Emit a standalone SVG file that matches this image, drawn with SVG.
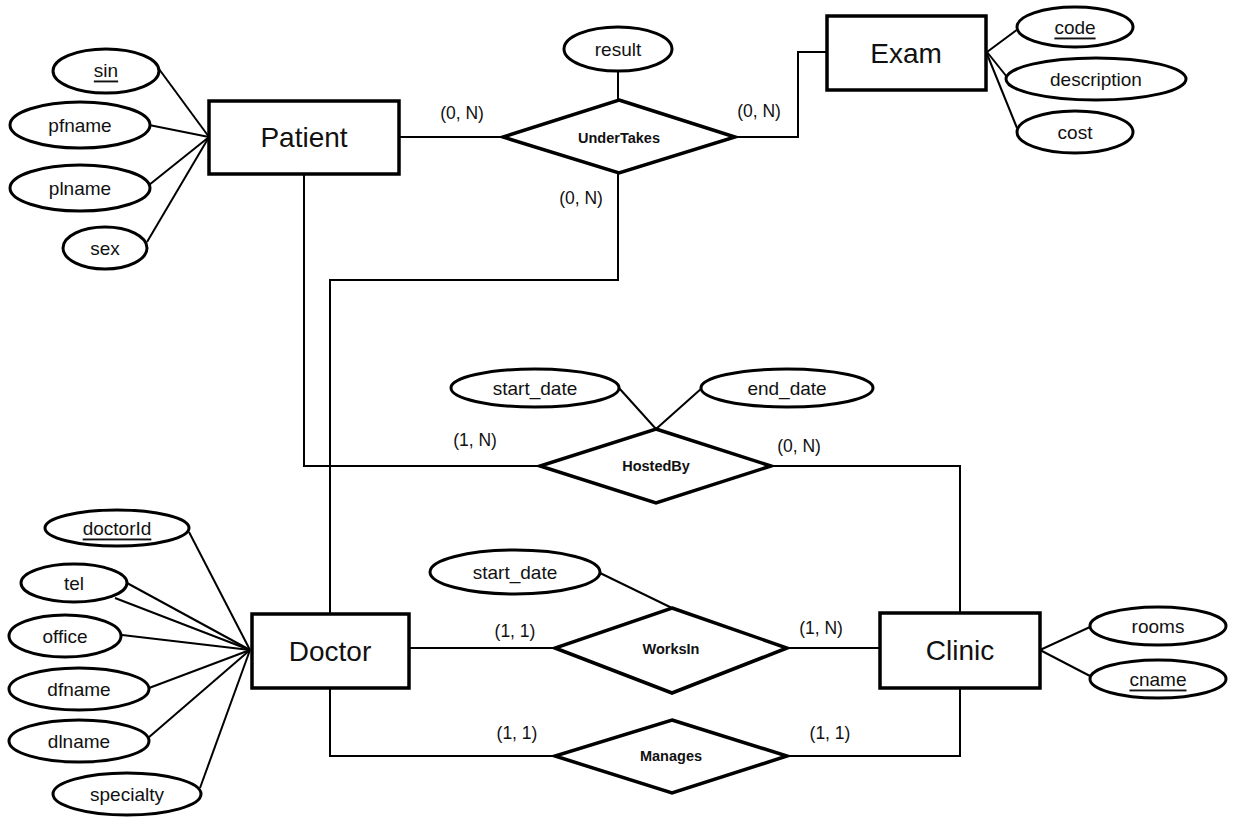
<svg xmlns="http://www.w3.org/2000/svg" width="1233" height="818" viewBox="0 0 1233 818">
<style>
.ent{fill:#fff;stroke:#000;stroke-width:3.5}
.att{fill:#fff;stroke:#000;stroke-width:3}
.rel{fill:#fff;stroke:#000;stroke-width:3.5;stroke-linejoin:miter}
.con{fill:none;stroke:#000;stroke-width:2}
text{font-family:"Liberation Sans",Arial,sans-serif;fill:#111;text-anchor:middle;dominant-baseline:central}
.et{font-size:28px}
.at{font-size:19px}
.rt{font-size:14.5px;font-weight:bold}
.ct{font-size:17.5px}
.key{text-decoration:underline}
</style>
<rect width="1233" height="818" fill="#fff"/>
<g id="connectors">
<line class="con" x1="159" y1="69" x2="209" y2="137"/>
<line class="con" x1="149" y1="125" x2="209" y2="137"/>
<line class="con" x1="149" y1="185" x2="209" y2="137"/>
<line class="con" x1="147" y1="242" x2="209" y2="137"/>
<line class="con" x1="987" y1="52" x2="1018" y2="29"/>
<line class="con" x1="987" y1="52" x2="1007" y2="77"/>
<line class="con" x1="987" y1="54" x2="1017" y2="128"/>
<line class="con" x1="618" y1="71" x2="618" y2="100"/>
<polyline class="con" points="399,137 503,137"/>
<polyline class="con" points="735,137 798,137 798,52 827,52"/>
<polyline class="con" points="618,173 618,280 330,280 330,614"/>
<polyline class="con" points="304,174 304,466 540,466"/>
<polyline class="con" points="771,466 960,466 960,613"/>
<line class="con" x1="619" y1="388" x2="656" y2="429"/>
<line class="con" x1="702" y1="388" x2="656" y2="429"/>
<line class="con" x1="189" y1="532" x2="250" y2="650"/>
<line class="con" x1="127" y1="583" x2="250" y2="650"/>
<line class="con" x1="115" y1="598" x2="250" y2="650"/>
<line class="con" x1="122" y1="635" x2="250" y2="650"/>
<line class="con" x1="149" y1="688" x2="250" y2="650"/>
<line class="con" x1="148" y1="738" x2="250" y2="650"/>
<line class="con" x1="200" y1="788" x2="250" y2="650"/>
<polyline class="con" points="409,648 555,648"/>
<polyline class="con" points="787,648 880,648"/>
<line class="con" x1="600" y1="573" x2="672" y2="608"/>
<polyline class="con" points="330,688 330,756 555,756"/>
<polyline class="con" points="787,756 960,756 960,688"/>
<line class="con" x1="1040" y1="650" x2="1090" y2="627"/>
<line class="con" x1="1040" y1="650" x2="1090" y2="676"/>
</g>
<g id="patient"><rect class="ent" x="209" y="101" width="190" height="73"/><text class="et" x="304" y="137">Patient</text></g>
<g id="attr-sin"><ellipse class="att" cx="106" cy="71" rx="53" ry="22"/><text class="at key" x="106" y="70">sin</text></g>
<g id="attr-pfname"><ellipse class="att" cx="80" cy="125" rx="70" ry="23"/><text class="at" x="80" y="125">pfname</text></g>
<g id="attr-plname"><ellipse class="att" cx="80" cy="188" rx="70" ry="23"/><text class="at" x="80" y="188">plname</text></g>
<g id="attr-sex"><ellipse class="att" cx="105" cy="248" rx="42" ry="21"/><text class="at" x="105" y="248">sex</text></g>
<g id="exam"><rect class="ent" x="827" y="16" width="159" height="74"/><text class="et" x="906" y="53">Exam</text></g>
<g id="attr-code"><ellipse class="att" cx="1075" cy="27" rx="58" ry="20"/><text class="at key" x="1075" y="27">code</text></g>
<g id="attr-description"><ellipse class="att" cx="1096" cy="79" rx="90" ry="21"/><text class="at" x="1096" y="79">description</text></g>
<g id="attr-cost"><ellipse class="att" cx="1075" cy="132" rx="58" ry="21"/><text class="at" x="1075" y="132">cost</text></g>
<g id="undertakes"><polygon class="rel" points="619,100 735,137 619,173 503,137"/><text class="rt" x="619" y="138">UnderTakes</text></g>
<g id="attr-result"><ellipse class="att" cx="618" cy="49" rx="54" ry="22"/><text class="at" x="618" y="49">result</text></g>
<g id="hostedby"><polygon class="rel" points="656,429 771,466 656,503 540,466"/><text class="rt" x="656" y="466">HostedBy</text></g>
<g id="attr-hb-start"><ellipse class="att" cx="535" cy="388" rx="84" ry="19"/><text class="at" x="535" y="388">start_date</text></g>
<g id="attr-hb-end"><ellipse class="att" cx="787" cy="388" rx="86" ry="19"/><text class="at" x="787" y="388">end_date</text></g>
<g id="doctor"><rect class="ent" x="252" y="614" width="157" height="74"/><text class="et" x="330" y="651">Doctor</text></g>
<g id="attr-doctorId"><ellipse class="att" cx="117" cy="528" rx="72" ry="18"/><text class="at key" x="117" y="528">doctorId</text></g>
<g id="attr-tel"><ellipse class="att" cx="74" cy="583" rx="53" ry="19"/><text class="at" x="74" y="583">tel</text></g>
<g id="attr-office"><ellipse class="att" cx="65" cy="636" rx="56" ry="21"/><text class="at" x="65" y="636">office</text></g>
<g id="attr-dfname"><ellipse class="att" cx="79" cy="689" rx="70" ry="21"/><text class="at" x="79" y="689">dfname</text></g>
<g id="attr-dlname"><ellipse class="att" cx="79" cy="741" rx="70" ry="21"/><text class="at" x="79" y="741">dlname</text></g>
<g id="attr-specialty"><ellipse class="att" cx="127" cy="794" rx="74" ry="21"/><text class="at" x="127" y="794">specialty</text></g>
<g id="worksin"><polygon class="rel" points="672,608 787,648 672,693 555,648"/><text class="rt" x="671" y="649">WorksIn</text></g>
<g id="attr-wi-start"><ellipse class="att" cx="515" cy="572" rx="85" ry="22"/><text class="at" x="515" y="572">start_date</text></g>
<g id="manages"><polygon class="rel" points="672,720 787,756 672,793 555,756"/><text class="rt" x="671" y="756">Manages</text></g>
<g id="clinic"><rect class="ent" x="880" y="613" width="160" height="75"/><text class="et" x="960" y="650">Clinic</text></g>
<g id="attr-rooms"><ellipse class="att" cx="1158" cy="626" rx="68" ry="19"/><text class="at" x="1158" y="626">rooms</text></g>
<g id="attr-cname"><ellipse class="att" cx="1158" cy="679" rx="68" ry="19"/><text class="at key" x="1158" y="679">cname</text></g>
<g id="cardinalities">
<text class="ct" x="462" y="113">(0, N)</text>
<text class="ct" x="759" y="111">(0, N)</text>
<text class="ct" x="581" y="198">(0, N)</text>
<text class="ct" x="475" y="440">(1, N)</text>
<text class="ct" x="799" y="446">(0, N)</text>
<text class="ct" x="515" y="631">(1, 1)</text>
<text class="ct" x="821" y="628">(1, N)</text>
<text class="ct" x="517" y="733">(1, 1)</text>
<text class="ct" x="830" y="733">(1, 1)</text>
</g>
</svg>
